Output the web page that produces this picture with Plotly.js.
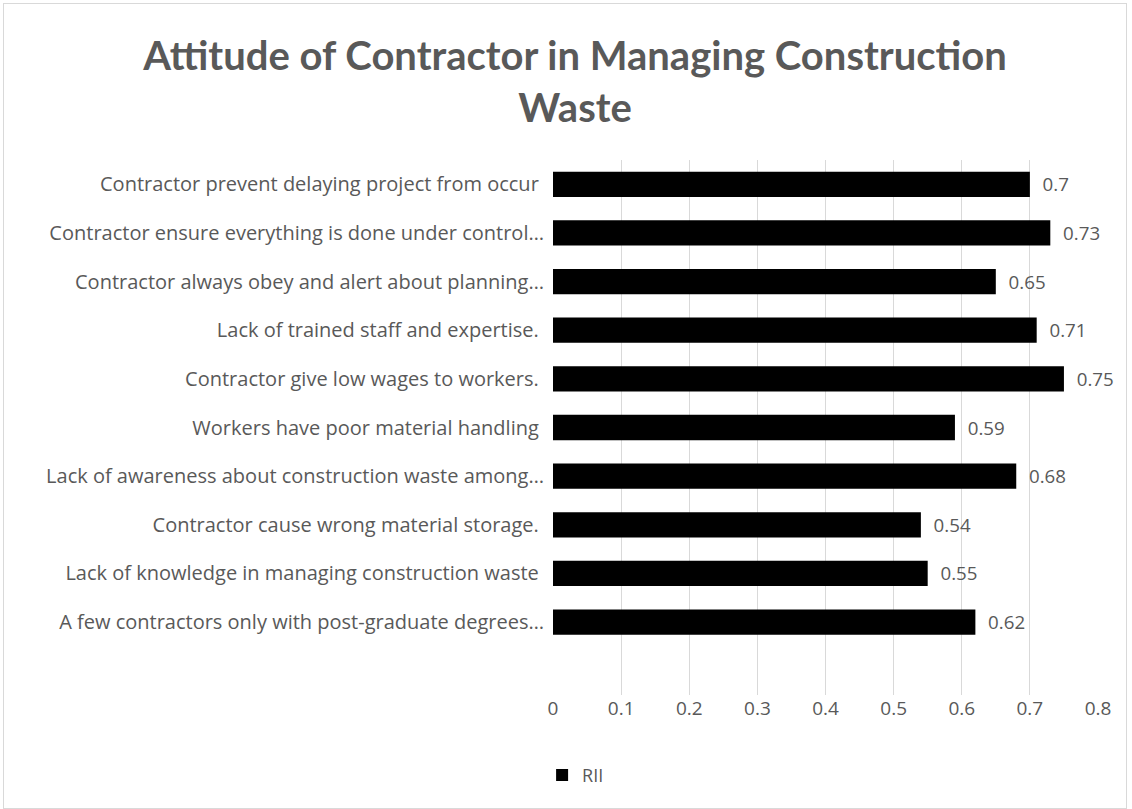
<!DOCTYPE html>
<html>
<head>
<meta charset="utf-8">
<script src="https://cdn.plot.ly/plotly-3.0.1.min.js"></script>
<style>
  html, body { margin: 0; padding: 0; background: #fff; }
  #wrap { position: relative; width: 1132px; height: 809px; }
  #chart { width: 1132px; height: 809px; }
  #frame { position: absolute; left: 3px; top: 3px; width: 1124px; height: 806px; border: 1px solid #d9d9d9; box-sizing: border-box; pointer-events: none; }
</style>
</head>
<body>
<div id="wrap">
  <div id="chart"></div>
  <div id="frame"></div>
</div>
<script>
// Categories listed bottom to top
const categories = [
  "A few contractors only with post-graduate degrees…",
  "Lack of knowledge in managing construction waste\u00a0",
  "Contractor cause wrong material storage.\u00a0",
  "Lack of awareness about construction waste among…",
  "Workers have poor material handling\u00a0",
  "Contractor give low wages to workers.\u00a0",
  "Lack of trained staff and expertise.\u00a0",
  "Contractor always obey and alert about planning…",
  "Contractor ensure everything is done under control…",
  "Contractor prevent delaying project from occur\u00a0"
];
const rii = [0.62, 0.55, 0.54, 0.68, 0.59, 0.75, 0.71, 0.65, 0.73, 0.7];
const xTicks = [0, 0.1, 0.2, 0.3, 0.4, 0.5, 0.6, 0.7, 0.8];
const seriesName = "RII";
const chartTitle = "Attitude of Contractor in Managing Construction<br>Waste";

const fontFam = "'Open Sans', sans-serif";
const gray = "#595959";

const trace = {
  type: "bar",
  orientation: "h",
  name: seriesName,
  y: categories,
  x: rii,
  marker: { color: "#000000" },
  width: 0.52,
  text: rii.map(v => "\u00a0\u00a0" + String(v)),
  textposition: "outside",
  cliponaxis: false,
  textfont: { family: fontFam, size: 20, color: gray },
  showlegend: true
};

const layout = {
  width: 1132,
  height: 809,
  margin: { l: 553, r: 34, t: 160, b: 114 },
  paper_bgcolor: "#ffffff",
  plot_bgcolor: "#ffffff",
  title: {
    text: chartTitle,
    font: { family: "Lato, sans-serif", size: 40, color: gray, weight: "bold" },
    x: 0.508,
    xanchor: "center",
    y: 0.914,
    yanchor: "middle"
  },
  xaxis: {
    range: [0, 0.8],
    tickvals: xTicks,
    ticktext: xTicks.map(v => String(v)),
    showgrid: true,
    gridcolor: "#d9d9d9",
    gridwidth: 1,
    zeroline: false,
    showline: false,
    ticks: "",
    ticklabelstandoff: 0,
    tickfont: { family: fontFam, size: 19, color: gray }
  },
  yaxis: {
    type: "category",
    categoryorder: "array",
    categoryarray: categories,
    range: [-1.5, 9.5],
    showgrid: false,
    zeroline: false,
    showline: false,
    ticks: "",
    ticklabelstandoff: 8,
    tickfont: { family: fontFam, size: 20, color: gray }
  },
  showlegend: true,
  legend: {
    orientation: "h",
    x: -0.02,
    xanchor: "left",
    y: -0.15,
    yanchor: "middle",
    font: { family: fontFam, size: 18, color: gray },
    itemwidth: 30
  },
  bargap: 0.48
};

Plotly.newPlot("chart", [trace], layout, { displayModeBar: false, staticPlot: true });
</script>
</body>
</html>
